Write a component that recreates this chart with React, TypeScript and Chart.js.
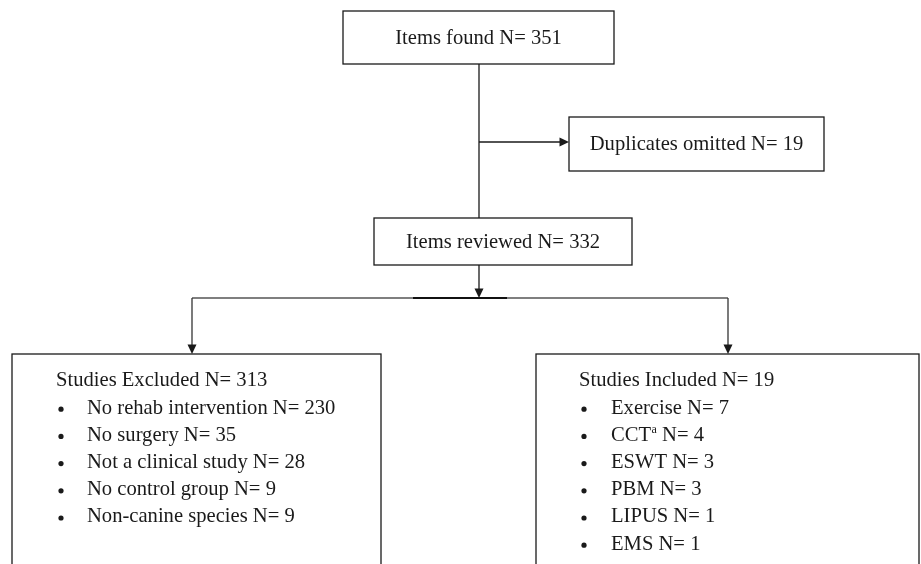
import React, { useEffect, useRef } from "react";
import { Chart, registerables } from "chart.js";

Chart.register(...registerables);

// ---- data ----
const nodeLabels = ["Items found", "Duplicates omitted", "Items reviewed", "Studies Excluded", "Studies Included"];
const nodeCounts = [351, 19, 332, 313, 19];
const excludedReasons = ["No rehab intervention", "No surgery", "Not a clinical study", "No control group", "Non-canine species"];
const excludedCounts = [230, 35, 28, 9, 9];
const includedTypes = ["Exercise", "CCT", "ESWT", "PBM", "LIPUS", "EMS"];
const includedSuperscripts = ["", "a", "", "", "", ""];
const includedCounts = [7, 4, 3, 3, 1, 1];

// ---- layout (in scale units, separate from data) ----
const W = 921;
const H = 564;
const boxLayout = [
  { x0: 343, y0: 11, x1: 614, y1: 64 },
  { x0: 569, y0: 117, x1: 824, y1: 171 },
  { x0: 374, y0: 218, x1: 632, y1: 265 },
  { x0: 12, y0: 354, x1: 381, y1: 620 },
  { x0: 536, y0: 354, x1: 919, y1: 620 },
];
const listLayout = [
  null,
  null,
  null,
  { titleX: 56, bulletX: 61, textX: 87, y: 381, dy: 27.2 },
  { titleX: 579, bulletX: 584, textX: 611, y: 381, dy: 27.2 },
];
const FONT = "20.6px 'Liberation Serif', 'Times New Roman', serif";
const SMALL_FONT = "12px 'Liberation Serif', 'Times New Roman', serif";
const INK = "#1a1a1a";

const flowPlugin = {
  id: "flow",
  afterDraw(chart: any) {
    const ctx = chart.ctx as CanvasRenderingContext2D;
    const xs = chart.scales.x;
    const ys = chart.scales.y;
    const px = (v: number) => xs.getPixelForValue(v);
    const py = (v: number) => ys.getPixelForValue(v);
    ctx.save();
    ctx.fillStyle = "#ffffff";
    ctx.fillRect(0, 0, chart.width, chart.height);

    const line = (x0: number, y0: number, x1: number, y1: number, color = INK, w = 1.3) => {
      ctx.strokeStyle = color;
      ctx.lineWidth = w;
      ctx.beginPath();
      ctx.moveTo(px(x0), py(y0));
      ctx.lineTo(px(x1), py(y1));
      ctx.stroke();
    };
    const arrowDown = (x: number, y: number) => {
      ctx.fillStyle = INK;
      ctx.beginPath();
      ctx.moveTo(px(x), py(y));
      ctx.lineTo(px(x) - 4.5, py(y) - 9.5);
      ctx.lineTo(px(x) + 4.5, py(y) - 9.5);
      ctx.closePath();
      ctx.fill();
    };
    const arrowRight = (x: number, y: number) => {
      ctx.fillStyle = INK;
      ctx.beginPath();
      ctx.moveTo(px(x), py(y));
      ctx.lineTo(px(x) - 9.5, py(y) - 4.5);
      ctx.lineTo(px(x) - 9.5, py(y) + 4.5);
      ctx.closePath();
      ctx.fill();
    };

    // boxes
    boxLayout.forEach((b) => {
      ctx.strokeStyle = INK;
      ctx.lineWidth = 1.3;
      ctx.strokeRect(px(b.x0), py(b.y0), px(b.x1) - px(b.x0), py(b.y1) - py(b.y0));
    });

    // connectors
    const cx = 479;
    line(cx, boxLayout[0].y1, cx, boxLayout[2].y0);
    line(cx, 142, boxLayout[1].x0 - 8, 142);
    arrowRight(boxLayout[1].x0, 142);
    line(cx, boxLayout[2].y1, cx, 291);
    arrowDown(cx, 298);
    line(192, 298, 728, 298, "#555", 1.5);
    line(413, 298, 507, 298, "#111", 2);
    line(192, 298, 192, 346, "#333", 1.3);
    arrowDown(192, boxLayout[3].y0);
    line(728, 298, 728, 346, "#333", 1.3);
    arrowDown(728, boxLayout[4].y0);

    // texts
    ctx.fillStyle = INK;
    ctx.font = FONT;
    ctx.textBaseline = "middle";
    ctx.textAlign = "center";
    for (let i = 0; i < 3; i++) {
      const b = boxLayout[i];
      ctx.fillText(`${nodeLabels[i]} N= ${nodeCounts[i]}`, px((b.x0 + b.x1) / 2), py((b.y0 + b.y1) / 2) + 1);
    }

    ctx.textAlign = "left";
    const drawList = (idx: number, items: string[], counts: number[], sups: string[]) => {
      const L = listLayout[idx]!;
      ctx.font = FONT;
      ctx.fillText(`${nodeLabels[idx]} N= ${nodeCounts[idx]}`, px(L.titleX), py(L.y));
      items.forEach((it, k) => {
        const yy = py(L.y + (k + 1) * L.dy);
        ctx.beginPath();
        ctx.arc(px(L.bulletX), yy + 1, 2.6, 0, Math.PI * 2);
        ctx.fill();
        ctx.font = FONT;
        let x = px(L.textX);
        ctx.fillText(it, x, yy);
        x += ctx.measureText(it).width;
        if (sups[k]) {
          ctx.font = SMALL_FONT;
          ctx.fillText(sups[k], x + 0.5, yy - 6);
          x += ctx.measureText(sups[k]).width + 0.5;
          ctx.font = FONT;
        }
        ctx.fillText(` N= ${counts[k]}`, x, yy);
      });
    };
    drawList(3, excludedReasons, excludedCounts, excludedReasons.map(() => ""));
    drawList(4, includedTypes, includedCounts, includedSuperscripts);

    ctx.restore();
  },
};

export default function App() {
  const ref = useRef<HTMLCanvasElement | null>(null);
  useEffect(() => {
    document.body.style.margin = "0";
    if (!ref.current) return;
    const chart = new Chart(ref.current, {
      type: "scatter",
      data: { datasets: [{ data: [] }] },
      options: {
        animation: false,
        responsive: false,
        devicePixelRatio: 1,
        layout: { padding: 0 },
        plugins: { legend: { display: false }, tooltip: { enabled: false } },
        scales: {
          x: { type: "linear", min: 0, max: W, display: false },
          y: { type: "linear", min: 0, max: H, reverse: true, display: false },
        },
      },
      plugins: [flowPlugin],
    });
    return () => chart.destroy();
  }, []);
  return <canvas ref={ref} width={W} height={H} style={{ display: "block" }} />;
}
